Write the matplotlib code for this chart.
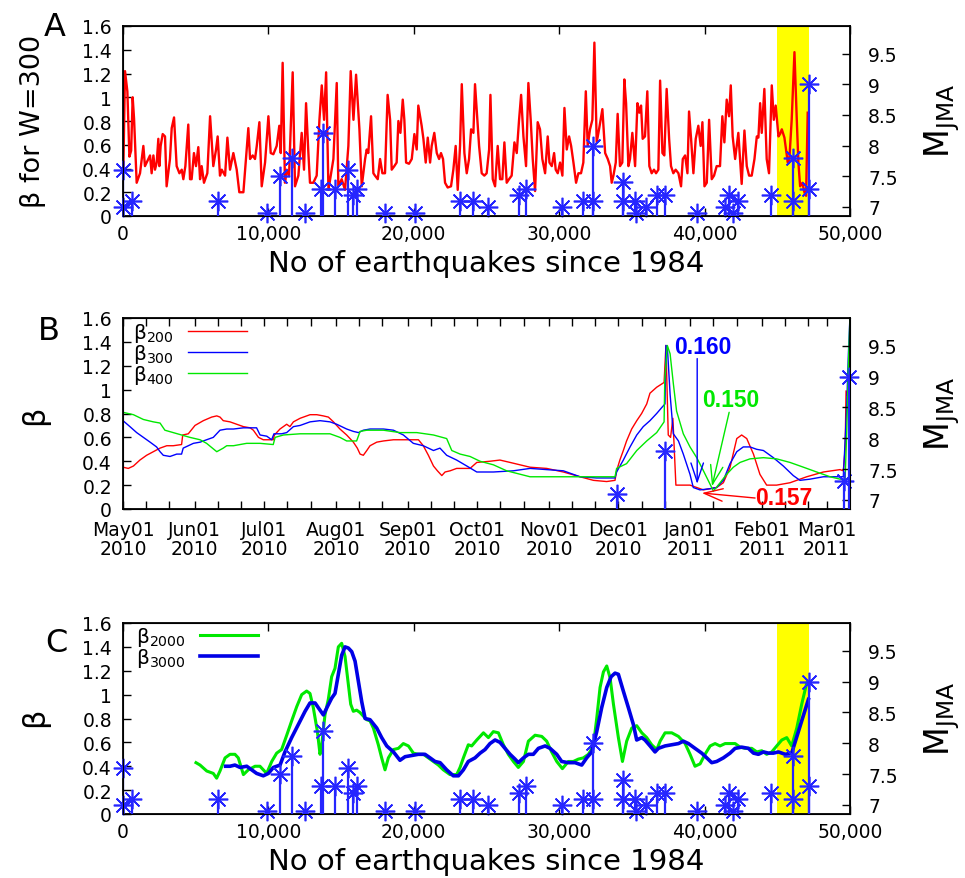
import matplotlib.pyplot as plt

plt.rcParams['font.family'] = ['DejaVu Sans']

# ---- panel A : beta for W=300 vs number of earthquakes ----
A_idx = [23, 138, 300, 440, 560, 665, 760, 940, 1170, 1400,
         1510, 1740, 1860, 1970, 2090, 2200, 2320, 2430, 2500, 2590,
         2730, 2890, 3000, 3230, 3350, 3510, 3690, 3880, 4040, 4150,
         4290, 4490, 4610, 4720, 4880, 5020, 5180, 5300, 5410, 5570,
         5800, 5990, 6210, 6400, 6510, 6670, 6790, 7020, 7180, 7360,
         7590, 7820, 8000, 8280, 8620, 8740, 8920, 9080, 9200, 9380,
         9540, 9770, 10000, 10160, 10340, 10570, 10750, 10850, 10980, 11140,
         11260, 11420, 11670, 11830, 12060, 12290, 12450, 12590, 12750, 12860,
         13090, 13320, 13510, 13670, 13830, 13970, 14130, 14470, 14700, 14810,
         15040, 15270, 15500, 15660, 15850, 16030, 16260, 16420, 16650, 16760,
         16870, 17060, 17220, 17330, 17520, 17680, 17840, 18020, 18200, 18370,
         18480, 18660, 18820, 18940, 19080, 19240, 19350, 19470, 19670, 19860,
         20040, 20200, 20310, 20430, 20540, 20660, 20820, 20960, 21120, 21230,
         21410, 21580, 21740, 21870, 22010, 22150, 22330, 22560, 22720, 22880,
         23020, 23180, 23300, 23480, 23640, 23800, 23940, 24100, 24210, 24370,
         24490, 24670, 24850, 25010, 25180, 25270, 25430, 25590, 25770, 25930,
         26090, 26230, 26390, 26550, 26730, 26920, 27080, 27240, 27380, 27540,
         27720, 27880, 28040, 28180, 28340, 28520, 28680, 28840, 29030, 29210,
         29330, 29490, 29650, 29760, 29900, 30060, 30220, 30360, 30520, 30680,
         30820, 30980, 31160, 31320, 31500, 31660, 31830, 31960, 32120, 32280,
         32420, 32580, 32740, 32970, 33160, 33340, 33500, 33610, 33730, 33890,
         34020, 34180, 34340, 34480, 34600, 34760, 34870, 35030, 35220, 35380,
         35510, 35630, 35740, 35900, 36060, 36200, 36360, 36520, 36660, 36820,
         36940, 37100, 37230, 37390, 37560, 37690, 37850, 38010, 38200, 38380,
         38500, 38660, 38820, 38930, 39070, 39230, 39390, 39570, 39730, 39850,
         39990, 40150, 40310, 40490, 40650, 40830, 41060, 41220, 41360, 41520,
         41680, 41800, 41930, 42100, 42320, 42550, 42740, 42900, 43060, 43240,
         43430, 43590, 43700, 43820, 43930, 44110, 44270, 44430, 44620, 44760,
         44890, 45080, 45190, 45310, 45490, 45600, 45720, 45830, 45990, 46180,
         46340, 46450, 46570, 46730, 46860, 46980, 47090]
A_beta = [0.39, 1.22, 1.05, 0.50, 0.55, 1.00, 0.82, 0.28, 0.36, 0.59,
          0.42, 0.48, 0.51, 0.36, 0.51, 0.39, 0.45, 0.65, 0.42, 0.59,
          0.69, 0.67, 0.25, 0.48, 0.74, 0.83, 0.42, 0.36, 0.39, 0.31,
          0.42, 0.77, 0.31, 0.31, 0.53, 0.42, 0.58, 0.31, 0.42, 0.28,
          0.36, 0.84, 0.42, 0.56, 0.67, 0.34, 0.39, 0.34, 0.66, 0.39,
          0.53, 0.39, 0.20, 0.20, 0.74, 0.48, 0.51, 0.48, 0.59, 0.79,
          0.25, 0.45, 0.84, 0.53, 0.52, 0.59, 0.76, 0.53, 1.29, 0.28,
          0.39, 0.34, 1.21, 0.25, 0.34, 0.70, 0.39, 0.95, 0.53, 0.28,
          0.28, 0.34, 0.81, 1.10, 0.81, 1.21, 0.22, 0.48, 1.12, 0.25,
          0.31, 0.22, 0.59, 1.22, 0.81, 1.19, 0.73, 0.25, 0.48, 0.56,
          0.53, 0.84, 0.36, 0.34, 0.31, 0.48, 0.36, 0.36, 1.02, 0.81,
          0.39, 0.42, 0.45, 0.80, 0.70, 0.98, 0.81, 0.45, 0.44, 0.48,
          0.69, 0.56, 0.93, 0.84, 0.76, 0.65, 0.45, 0.66, 0.45, 0.59,
          0.70, 0.53, 0.48, 0.53, 0.48, 0.28, 0.24, 0.25, 0.39, 0.59,
          0.22, 0.59, 1.11, 0.53, 0.36, 0.48, 0.73, 0.70, 1.11, 0.81,
          0.59, 0.36, 0.34, 0.36, 0.56, 1.02, 0.31, 0.25, 0.59, 0.31,
          0.31, 0.62, 0.28, 0.31, 0.34, 0.62, 0.53, 0.81, 1.02, 0.67,
          0.42, 1.12, 0.81, 0.48, 0.21, 0.79, 0.73, 0.48, 0.36, 0.67,
          0.45, 0.42, 0.53, 0.39, 0.36, 0.45, 0.34, 0.91, 0.56, 0.67,
          0.59, 0.45, 0.28, 0.36, 0.36, 0.45, 1.05, 0.59, 0.73, 0.81,
          1.46, 0.62, 0.73, 0.90, 0.53, 0.48, 0.42, 0.28, 0.34, 0.45,
          0.86, 0.42, 0.45, 1.15, 0.95, 0.42, 0.48, 0.70, 0.42, 0.95,
          0.87, 0.93, 0.65, 0.67, 1.05, 0.42, 0.36, 0.39, 0.36, 0.39,
          1.14, 0.53, 0.51, 1.07, 0.65, 0.42, 0.36, 0.39, 0.36, 0.25,
          0.48, 0.51, 0.36, 0.88, 0.65, 0.36, 0.65, 0.76, 0.59, 0.79,
          0.25, 0.28, 0.81, 0.31, 0.34, 0.42, 0.42, 0.84, 0.62, 0.98,
          0.84, 1.10, 0.67, 0.48, 0.70, 0.27, 0.72, 0.42, 0.34, 0.34,
          0.48, 0.67, 0.66, 0.95, 0.70, 1.07, 0.48, 0.36, 1.10, 0.81,
          0.93, 0.67, 0.69, 0.73, 0.66, 0.56, 0.45, 0.48, 0.81, 1.38,
          0.81, 0.45, 0.25, 0.28, 0.20, 0.17, 0.87]

# large earthquakes (M_JMA >= 6.9), position in catalogue
EQ_idx = [0, 0, 600, 6550, 9880, 10800, 11600, 12520, 13620, 13780,
          14580, 15500, 15850, 16070, 18020, 20080, 23180, 24090, 25120, 27260,
          27720, 30170, 31660, 32300, 32350, 34360, 34360, 35210, 35260, 35950,
          36740, 37280, 39450, 41400, 41700, 41970, 42270, 44540, 46050, 46050,
          47200, 47200]
EQ_mag = [7.6, 7.0, 7.1, 7.1, 6.9, 7.5, 7.8, 6.9, 7.3, 8.2,
          7.3, 7.6, 7.2, 7.3, 6.9, 6.9, 7.1, 7.1, 7.0, 7.2,
          7.3, 7.0, 7.1, 8.0, 7.1, 7.4, 7.1, 7.1, 6.9, 7.0,
          7.2, 7.2, 6.9, 7.0, 7.2, 6.9, 7.1, 7.2, 7.8, 7.1,
          9.0, 7.3]
highlight = (45000, 47200)

# ---- panel B : days since 2010-05-01 ----
B_red_day = [0, 2.3, 4.5, 7.3, 10.2, 13.1, 16, 18.9, 21.7, 25.3, 25.8, 28.2, 31.1, 34.7, 38.3, 40.5,
             41.9, 43.3, 46.2, 49.1, 52, 54.9, 56.3, 58.5, 60.6, 64.2, 64.9, 65.4, 67.8, 70.7, 72.1,
             73.6, 76.5, 80.8, 83.7, 86.5, 88.7, 90.9, 93.7, 96.6, 99.5, 101.2, 102.4, 103.8, 105.3,
             106.7, 109.6, 112.5, 116.8, 121.1, 125.4, 127.6, 129.7, 131.9, 134.1, 135.8, 137.7, 139.1,
             141.3, 144.1, 149.9, 152.8, 158.5, 162.8, 167.2, 171.5, 175.8, 183, 190.2, 197.4, 203.2,
             208.9, 212.5, 213.2, 214.6, 216.1, 217.5, 219.7, 221.9, 224, 226.2, 227.6, 230.5, 233.7,
             234.5, 235.5, 236.5, 237.5, 238.8, 244.9, 250.7, 256.4, 259.3, 262.2, 265.1, 267.2, 269.4,
             272.3, 275.1, 278, 282.3, 288.1, 295.3, 302.5, 309.7, 311.1, 311.9, 312.3, 312.9, 314]
B_red_beta = [0.35, 0.34, 0.36, 0.41, 0.45, 0.48, 0.51, 0.53, 0.53, 0.54, 0.62, 0.63, 0.70, 0.74, 0.77, 0.78,
              0.77, 0.74, 0.73, 0.71, 0.69, 0.68, 0.66, 0.60, 0.58, 0.58, 0.58, 0.62, 0.67, 0.71, 0.69,
              0.73, 0.76, 0.79, 0.79, 0.78, 0.77, 0.73, 0.67, 0.62, 0.56, 0.51, 0.46, 0.45, 0.49,
              0.53, 0.56, 0.57, 0.58, 0.58, 0.58, 0.58, 0.53, 0.45, 0.36, 0.32, 0.28, 0.31,
              0.32, 0.34, 0.34, 0.39, 0.40, 0.41, 0.39, 0.37, 0.35, 0.34, 0.31, 0.27, 0.24,
              0.23, 0.24, 0.32, 0.41, 0.49, 0.57, 0.67, 0.74, 0.80, 0.88, 0.97, 1.02, 1.06,
              1.37, 0.62, 0.60, 0.76, 0.20, 0.20, 0.16, 0.18, 0.22, 0.35, 0.59, 0.62, 0.59,
              0.46, 0.29, 0.20, 0.20, 0.22, 0.27, 0.31, 0.33, 0.32, 0.50, 0.99, 0.95, 0.97]
B_blue_day = [0, 3, 5.9, 8.8, 11.7, 14.5, 16, 17.4, 20.3, 23.2, 25.3, 26, 28.2, 30.4, 33.3, 36.1, 39,
              41.9, 44.8, 47.7, 52, 57.7, 59.2, 62.1, 64.2, 65.2, 68.5, 70.7, 73.6, 76.5, 80.8, 85.1,
              89.4, 92.3, 96.6, 99.5, 101.7, 103.8, 106.7, 112.5, 116.8, 121.1, 125.4, 129.7, 134.1,
              136.9, 139.8, 144.1, 148.5, 152.8, 160, 168.6, 175.8, 183, 190.2, 197.4, 204.6, 212.5,
              213.2, 216.1, 219, 221.9, 224.7, 227.6, 230.5, 232.7, 234.1, 234.5, 235.1, 236.3, 237.7,
              239.9, 242, 244.9, 246.3, 249.2, 253.5, 256.4, 259.3, 262.2, 265.1, 267.9, 270.8, 273.7,
              276.6, 280.9, 285.2, 289.5, 292.4, 296.7, 302.5, 308.3, 311.1, 311.9, 312.6, 313.3, 314]
B_blue_beta = [0.74, 0.69, 0.64, 0.60, 0.56, 0.52, 0.48, 0.45, 0.44, 0.46, 0.46, 0.51, 0.53, 0.55, 0.56, 0.58, 0.60,
               0.66, 0.67, 0.67, 0.68, 0.68, 0.62, 0.61, 0.58, 0.63, 0.63, 0.64, 0.69, 0.70, 0.73, 0.74,
               0.73, 0.71, 0.67, 0.65, 0.64, 0.66, 0.67, 0.67, 0.66, 0.62, 0.55, 0.53, 0.49,
               0.51, 0.45, 0.41, 0.36, 0.31, 0.31, 0.32, 0.34, 0.33, 0.32, 0.27, 0.26, 0.26,
               0.31, 0.41, 0.52, 0.62, 0.69, 0.74, 0.80, 0.85, 0.88, 1.37, 1.36, 0.96, 0.63,
               0.57, 0.46, 0.29, 0.18, 0.16, 0.17, 0.18, 0.24, 0.38, 0.48, 0.52, 0.52, 0.50,
               0.49, 0.43, 0.36, 0.28, 0.24, 0.25, 0.27, 0.27, 0.27, 0.57, 0.88, 1.30, 1.62]
B_green_day = [0, 4.5, 8.8, 13.1, 16, 18.1, 21.7, 25.3, 28.9, 33.3, 36.1, 40.5, 43.3, 44.8, 47.7, 53.4,
               59.2, 64.9, 65.7, 69.3, 76.5, 83.7, 89.4, 93.7, 96.6, 100.9, 102.4, 105.3, 112.5, 119.7,
               126.9, 134.1, 139.8, 142, 145.6, 149.9, 154.2, 160, 165.7, 175.8, 190.2, 204.6, 212.5,
               213.2, 217.5, 221.9, 226.2, 230.5, 233.7, 234, 235.1, 236.3, 237.7, 239.1, 242, 244.9,
               247.8, 250.7, 253.5, 255, 257.9, 260.7, 263.6, 266.5, 270.8, 276.6, 282.3, 288.1, 293.9,
               299.6, 305.4, 309.7, 311.9, 312.6, 313.3, 314]
B_green_beta = [0.81, 0.79, 0.75, 0.73, 0.72, 0.66, 0.64, 0.62, 0.60, 0.58, 0.55, 0.48, 0.51, 0.53, 0.53, 0.55,
                0.55, 0.54, 0.60, 0.62, 0.63, 0.63, 0.63, 0.60, 0.57, 0.57, 0.65, 0.66, 0.66, 0.64,
                0.64, 0.62, 0.59, 0.49, 0.46, 0.44, 0.40, 0.37, 0.32, 0.27, 0.27, 0.27, 0.27,
                0.34, 0.38, 0.49, 0.57, 0.64, 0.73, 1.08, 1.37, 1.30, 1.05, 0.82, 0.63, 0.52,
                0.43, 0.32, 0.21, 0.15, 0.22, 0.29, 0.35, 0.39, 0.42, 0.43, 0.42, 0.39, 0.35,
                0.31, 0.27, 0.25, 0.25, 0.66, 1.20, 1.62]
B_eq_day = [213.5, 234.1, 311.5, 313.7]
B_eq_mag = [7.1, 7.8, 7.3, 9.0]
B_month_day = [0, 31, 61, 92, 123, 153, 184, 214, 245, 276, 304]
B_month_lbl = ['May01\n2010', 'Jun01\n2010', 'Jul01\n2010', 'Aug01\n2010', 'Sep01\n2010',
               'Oct01\n2010', 'Nov01\n2010', 'Dec01\n2010', 'Jan01\n2011', 'Feb01\n2011',
               'Mar01\n2011']

# ---- panel C : beta for W=2000 and W=3000 ----
C_green_idx = [5020, 5300, 5760, 6210, 6440, 6670, 7020, 7360,
               7700, 7930, 8280, 8620, 9080, 9420, 9650, 9880, 10230, 10570,
               10910, 11260, 11600, 11950, 12290, 12630, 12860, 13090, 13370, 13550,
               13670, 13890, 14120, 14350, 14580, 14810, 15040, 15270, 15500, 15660,
               15840, 16070, 16300, 16530, 16760, 16990, 17220, 17560, 17790, 18020,
               18250, 18600, 18940, 19280, 19630, 19970, 20310, 20660, 21000, 21350,
               21690, 22030, 22490, 22950, 23180, 23410, 23750, 23980, 24330, 24790,
               25130, 25470, 25820, 26160, 26500, 26850, 27190, 27540, 27880, 28340,
               28800, 29140, 29480, 29830, 30220, 30630, 30970, 31320, 31660, 32010,
               32350, 32580, 32810, 33040, 33270, 33500, 33730, 34070, 34350, 34640,
               34990, 35330, 35680, 36020, 36360, 36710, 36940, 37280, 37740, 38200,
               38660, 39000, 39340, 39690, 40030, 40380, 40720, 41060, 41410, 41750,
               42100, 42440, 42780, 43240, 43590, 43930, 44270, 44620, 44960, 45310,
               45650, 45990, 46340, 46680, 47030, 47200]
C_green_beta = [0.43, 0.41, 0.36, 0.34, 0.30, 0.36, 0.47, 0.50,
                0.50, 0.47, 0.33, 0.37, 0.40, 0.40, 0.37, 0.34, 0.44, 0.51,
                0.54, 0.66, 0.78, 0.90, 1.00, 1.03, 1.01, 0.89, 0.69, 0.50,
                0.58, 0.83, 0.96, 1.15, 1.22, 1.40, 1.43, 1.32, 1.08, 0.92,
                0.86, 0.87, 0.85, 0.82, 0.79, 0.78, 0.72, 0.58, 0.47, 0.37,
                0.47, 0.54, 0.55, 0.59, 0.57, 0.51, 0.50, 0.50, 0.47, 0.44,
                0.41, 0.37, 0.33, 0.33, 0.39, 0.47, 0.58, 0.57, 0.62, 0.68,
                0.64, 0.69, 0.68, 0.58, 0.50, 0.44, 0.39, 0.44, 0.61, 0.66,
                0.65, 0.61, 0.52, 0.44, 0.38, 0.44, 0.44, 0.46, 0.47, 0.50,
                0.57, 0.80, 1.06, 1.19, 1.24, 1.14, 0.92, 0.64, 0.44, 0.61,
                0.72, 0.74, 0.68, 0.64, 0.58, 0.54, 0.61, 0.68, 0.68, 0.65,
                0.59, 0.50, 0.40, 0.42, 0.50, 0.57, 0.59, 0.57, 0.59, 0.59,
                0.59, 0.56, 0.55, 0.55, 0.52, 0.53, 0.50, 0.52, 0.57, 0.62,
                0.64, 0.57, 0.72, 0.92, 1.10, 1.11]
C_blue_idx = [7060, 7360, 7700, 8050, 8510, 8850, 9190, 9650, 10000, 10340,
              10800, 11140, 11600, 12060, 12520, 12860, 13210, 13550, 13780, 14060,
              14350, 14580, 14810, 15040, 15270, 15500, 15730, 15960, 16190, 16420,
              16650, 16990, 17450, 17790, 18140, 18600, 19050, 19400, 19860, 20310,
              20770, 21120, 21460, 21810, 22260, 22720, 23070, 23410, 23750, 24210,
              24560, 24900, 25240, 25590, 25930, 26270, 26620, 26960, 27190, 27540,
              27880, 28220, 28570, 29030, 29370, 29830, 30170, 30630, 31090, 31550,
              31890, 32240, 32580, 32920, 33270, 33570, 33840, 34070, 34410, 34760,
              35100, 35330, 35680, 35900, 36250, 36590, 36820, 37280, 37740, 38200,
              38540, 38890, 39340, 39800, 40150, 40490, 40830, 41290, 41750, 42100,
              42550, 43010, 43360, 43700, 44050, 44390, 44730, 45080, 45310, 45540,
              45990, 47140]
C_blue_beta = [0.40, 0.40, 0.41, 0.39, 0.40, 0.37, 0.34, 0.32, 0.34, 0.39,
               0.41, 0.52, 0.64, 0.75, 0.86, 0.93, 0.93, 0.87, 0.83, 0.90,
               0.97, 1.01, 1.17, 1.33, 1.40, 1.39, 1.36, 1.28, 1.11, 0.94,
               0.80, 0.79, 0.72, 0.64, 0.57, 0.52, 0.45, 0.48, 0.49, 0.50,
               0.50, 0.47, 0.44, 0.43, 0.37, 0.32, 0.32, 0.37, 0.44, 0.47,
               0.51, 0.54, 0.59, 0.62, 0.60, 0.55, 0.50, 0.46, 0.43, 0.47,
               0.50, 0.50, 0.55, 0.57, 0.55, 0.50, 0.44, 0.43, 0.43, 0.41,
               0.47, 0.52, 0.69, 0.89, 1.06, 1.15, 1.18, 1.17, 1.03, 0.89,
               0.75, 0.62, 0.64, 0.62, 0.57, 0.52, 0.55, 0.57, 0.58, 0.59,
               0.61, 0.59, 0.55, 0.51, 0.47, 0.43, 0.44, 0.47, 0.51, 0.55,
               0.56, 0.55, 0.51, 0.50, 0.52, 0.51, 0.51, 0.52, 0.51, 0.50,
               0.51, 0.96]

beta_ticks = [0, 0.2, 0.4, 0.6, 0.8, 1.0, 1.2, 1.4, 1.6]
beta_lbl = ['0', '0.2', '0.4', '0.6', '0.8', '1', '1.2', '1.4', '1.6']
mag_ticks = [7, 7.5, 8, 8.5, 9, 9.5]
mag_lbl = ['7', '7.5', '8', '8.5', '9', '9.5']
n_ticks = [0, 10000, 20000, 30000, 40000, 50000]
n_lbl = ['0', '10,000', '20,000', '30,000', '40,000', '50,000']

RED = '#ff0000'
GREEN = '#00e800'
BLUE = '#0000ff'
STAR = '#2626ff'
MAG_LIM = (6.853, 9.95)
TICK_FS = 13.5

W, H = 965, 879
fig = plt.figure(figsize=(W / 100, H / 100), dpi=100)


def ftext(x, y, s, **kw):
    fig.text(x / W, 1 - y / H, s, ha='center', va='center', **kw)


def panel(top, bottom):
    ax = fig.add_axes([123 / W, 1 - bottom / H, 727 / W, (bottom - top) / H])
    ax.set_ylim(0, 1.6)
    ax.set_yticks(beta_ticks)
    ax.set_yticklabels(beta_lbl)
    ax.tick_params(which='both', direction='in', length=6, width=1, labelsize=TICK_FS,
                   top=True, right=False)
    ax.tick_params(axis='x', pad=6)
    ax.tick_params(axis='y', pad=8)
    for s in ax.spines.values():
        s.set_linewidth(1.3)
    ax2 = ax.twinx()
    ax2.set_ylim(*MAG_LIM)
    ax2.set_yticks(mag_ticks)
    ax2.set_yticklabels(mag_lbl)
    ax2.tick_params(direction='in', length=6, width=1, labelsize=TICK_FS, pad=13)
    return ax, ax2


def quakes(ax2, x, m):
    ax2.vlines(x, MAG_LIM[0], m, colors=STAR, lw=1.6)
    ax2.plot(x, m, ls='none', marker=(8, 2, 0), ms=14, mew=1.2, color=STAR, clip_on=False)


leg_kw = dict(loc='upper left', markerfirst=False, frameon=False, fontsize=14.5,
              handlelength=2.9, handletextpad=0.7, labelspacing=-0.1,
              borderaxespad=0, borderpad=0)

# panel A
axA, axA2 = panel(27, 217)
axA.axvspan(*highlight, color='#ffff00', lw=0, zorder=0)
axA.plot(A_idx, A_beta, color=RED, lw=1.7)
quakes(axA2, EQ_idx, EQ_mag)
axA.set_xlim(0, 50000)
axA.set_xticks(n_ticks)
axA.set_xticklabels(n_lbl)

# panel B
axB, axB2 = panel(319, 510)
lr, = axB.plot(B_red_day, B_red_beta, color=RED, lw=1.0)
lb, = axB.plot(B_blue_day, B_blue_beta, color=BLUE, lw=1.0)
lg, = axB.plot(B_green_day, B_green_beta, color=GREEN, lw=1.0)
quakes(axB2, B_eq_day, B_eq_mag)
axB.set_xlim(0, 314)
axB.set_xticks(B_month_day)
axB.set_xticklabels(B_month_lbl, linespacing=1.0)
axB.set_xticks([d + k for d in B_month_day for k in (10, 20) if d + k < 314], minor=True)
axB.tick_params(axis='x', pad=8)
axB.legend([lr, lb, lg], ['β$_{\\mathregular{200}}$', 'β$_{\\mathregular{300}}$', 'β$_{\\mathregular{400}}$'],
           bbox_to_anchor=(0.014, 0.985), **leg_kw)

bold = dict(family=['Liberation Sans', 'DejaVu Sans'], weight='bold', fontsize=16.5,
            ha='center', va='center')
arrow = '->,head_length=0.9,head_width=0.3'
axB.text(250.3, 1.36, '0.160', color=BLUE, **bold)
axB.annotate('', xy=(248, 0.21), xytext=(248, 1.26),
             arrowprops=dict(arrowstyle=arrow, color=BLUE, lw=1, mutation_scale=15,
                             shrinkA=0, shrinkB=0))
axB.text(262.6, 0.92, '0.150', color=GREEN, **bold)
axB.annotate('', xy=(254.4, 0.19), xytext=(261.8, 0.81),
             arrowprops=dict(arrowstyle=arrow, color=GREEN, lw=1, mutation_scale=15,
                             shrinkA=0, shrinkB=0))
axB.text(285.3, 0.10, '0.157', color=RED, **bold)
axB.annotate('', xy=(250, 0.134), xytext=(273, 0.092),
             arrowprops=dict(arrowstyle=arrow, color=RED, lw=1, mutation_scale=15,
                             shrinkA=0, shrinkB=0))

# panel C
axC, axC2 = panel(624, 815)
axC.axvspan(*highlight, color='#ffff00', lw=0, zorder=0)
lg2, = axC.plot(C_green_idx, C_green_beta, color=GREEN, lw=2.2)
lb2, = axC.plot(C_blue_idx, C_blue_beta, color='#0000e6', lw=2.6)
quakes(axC2, EQ_idx, EQ_mag)
axC.set_xlim(0, 50000)
axC.set_xticks(n_ticks)
axC.set_xticklabels(n_lbl)
axC.legend([lg2, lb2], ['β$_{\\mathregular{2000}}$', 'β$_{\\mathregular{3000}}$'],
           bbox_to_anchor=(0.018, 0.99), **leg_kw)

# labels
ftext(55, 27, 'A', fontsize=23)
ftext(49, 332, 'B', fontsize=23)
ftext(56, 643, 'C', fontsize=23)
ftext(33, 121, 'β for W=300', fontsize=19.5, rotation=90)
ftext(35, 415, 'β', fontsize=22, rotation=90)
ftext(35, 717, 'β', fontsize=22, rotation=90)
for yc in (121, 414, 719):
    ftext(942, yc, '$\\mathregular{M_{JMA}}$', fontsize=24, rotation=90)
ftext(486, 264, 'No of earthquakes since 1984', fontsize=21)
ftext(486, 862, 'No of earthquakes since 1984', fontsize=21)

fig.savefig('out.png', dpi=100)
